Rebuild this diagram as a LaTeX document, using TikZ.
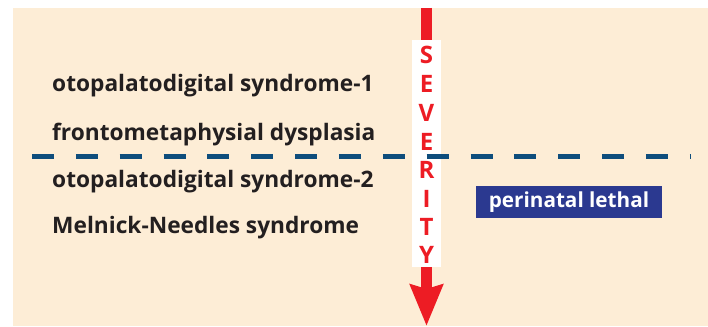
\documentclass[tikz,border=0pt]{standalone}
\usepackage{fontspec}
\setmainfont{Open Sans}
\usetikzlibrary{arrows.meta}
\definecolor{bgc}{RGB}{253,237,214}
\definecolor{sevred}{RGB}{237,28,36}
\definecolor{dashblue}{RGB}{14,77,124}
\definecolor{boxblue}{RGB}{43,57,144}
\definecolor{txt}{RGB}{35,31,32}
\tikzset{
  item/.style={anchor=base west, inner sep=0pt, text=txt, font=\fontsize{22.7}{26}\selectfont\bfseries},
  letter/.style={inner sep=0pt, text=sevred, font=\fontsize{24}{28}\selectfont\bfseries},
  dashline/.style={draw=dashblue, line width=5pt, dash pattern=on 22pt off 21.85pt},
  sevarrow/.style={draw=sevred, line width=11pt, -{Stealth[width=32pt,length=41pt,inset=4pt,fill=sevred]}},
  tagbox/.style={fill=boxblue, text=white, inner sep=0pt, minimum width=186pt, minimum height=32pt, font=\fontsize{20.7}{24}\selectfont\bfseries}
}
\begin{document}
\begin{tikzpicture}[x=1pt,y=-1pt]
\useasboundingbox (0,0) rectangle (708,326);
\fill[white] (0,0) rectangle (708,326);
\fill[bgc] (13,8) rectangle (708,326);
% arrow
\coordinate (top) at (426.5,8);
\coordinate (bot) at (426.5,326);
\draw[sevarrow] (top) -- (bot);
% white box
\node[fill=white, inner sep=0pt, minimum width=29pt, minimum height=227pt] (sev) at (426.5,153.5) {};
% dashed line
\coordinate (dl) at (32,156);
\coordinate (dr) at (691,156);
\draw[dashline] (dl) -- (dr);
% letters
\foreach \l/\y [count=\i] in {S/55,E/83.5,V/112.5,E/141.5,R/170,I/198.5,T/227,Y/254.5}{
  \node[letter] (s\i) at (426.5,\y) {\l};
}
% items
\node[item] (a) at (52,92) {otopalatodigital syndrome-1};
\node[item] (b) at (52,140) {frontometaphysial dysplasia};
\node[item] (c) at (52,187) {otopalatodigital syndrome-2};
\node[item] (d) at (52,233) {Melnick-Needles syndrome};
\node[tagbox] (p) at (569,202) {perinatal lethal};
\end{tikzpicture}
\end{document}
